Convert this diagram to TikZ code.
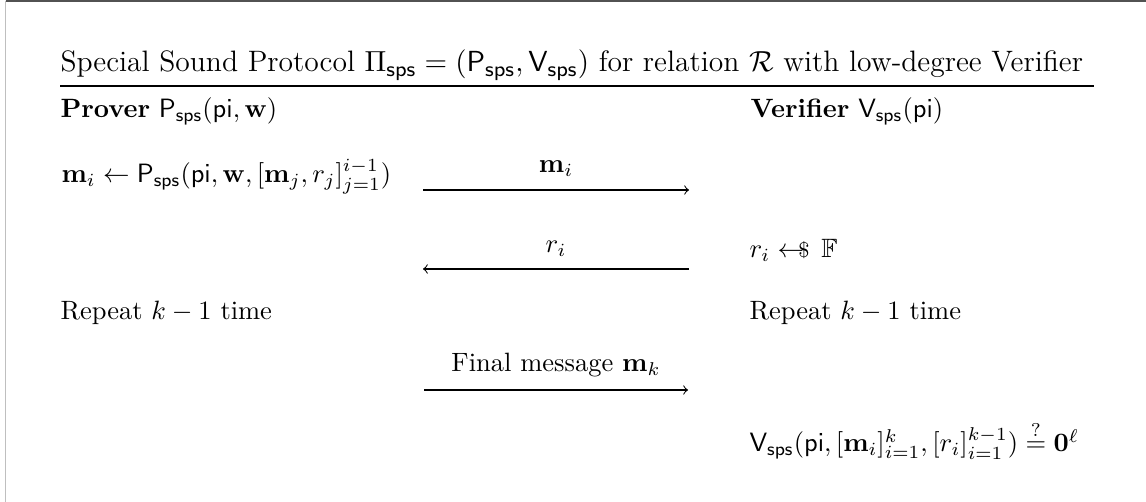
\documentclass[tikz,border=0pt]{standalone}
\usepackage{amsmath,amssymb}
\usetikzlibrary{arrows}
\begin{document}
\begin{tikzpicture}[x=0.3774pt,y=-0.3774pt,
  txt/.style={anchor=base west,inner sep=0pt,font=\fontsize{10}{12}\selectfont},
  lbl/.style={anchor=base,inner sep=0pt,font=\fontsize{10}{12}\selectfont},
  msg/.style={line width=0.4pt,->},
  frametop/.style={draw=black!68,line width=0.6pt},
  frameleft/.style={draw=black!25,line width=0.5pt}]
\useasboundingbox (0,0) rectangle (1146,502);
% frame edges
\coordinate (ftl) at (5.5,0.8);
\coordinate (ftr) at (1146,0.8);
\coordinate (fbl) at (5.5,502);
\draw[frametop] (ftl) -- (ftr);
\draw[frameleft] (ftl) -- (fbl);
% title
\node[txt,font=\fontsize{11.15}{13}\selectfont] (title) at (60,72)
  {Special Sound Protocol $\Pi_{\mathsf{sps}}=(\mathsf{P}_{\mathsf{sps}},\mathsf{V}_{\mathsf{sps}})$ for relation $\mathcal{R}$ with low-degree Verifier};
\coordinate (rl) at (60,86);
\coordinate (rr) at (1094,86);
\draw[line width=0.4pt] (rl) -- (rr);
% headers
\node[txt] (prover) at (60,118) {\textbf{Prover} $\mathsf{P}_{\mathsf{sps}}(\mathsf{pi},\mathbf{w})$};
\node[txt] (verifier) at (750,118) {\textbf{Verifier} $\mathsf{V}_{\mathsf{sps}}(\mathsf{pi})$};
% round i
\node[txt] (pmsg) at (61,183) {$\mathbf{m}_i\leftarrow\mathsf{P}_{\mathsf{sps}}(\mathsf{pi},\mathbf{w},[\mathbf{m}_j,r_j]_{j=1}^{i-1})$};
\coordinate (a1s) at (423,190);
\coordinate (a1e) at (689,190);
\draw[msg] (a1s) -- (a1e);
\node[lbl] (l1) at (556,173) {$\mathbf{m}_i$};
\coordinate (a2s) at (689,269);
\coordinate (a2e) at (423,269);
\draw[msg] (a2s) -- (a2e);
\node[lbl] (l2) at (556,253) {$r_i$};
\node[txt] (samp) at (749,258) {$r_i \mathrel{\leftarrow\!\!\!\mbox{\footnotesize\$}}\,\mathbb{F}$};
% repeat
\node[txt] (repL) at (60,320) {Repeat $k-1$ time};
\node[txt] (repR) at (749,320) {Repeat $k-1$ time};
% final
\coordinate (a3s) at (424,390);
\coordinate (a3e) at (688,390);
\draw[msg] (a3s) -- (a3e);
\node[lbl] (l3) at (556,372) {Final message $\mathbf{m}_k$};
\node[txt] (check) at (749,452) {$\mathsf{V}_{\mathsf{sps}}(\mathsf{pi},[\mathbf{m}_i]_{i=1}^{k},[r_i]_{i=1}^{k-1})\overset{?}{=}\mathbf{0}^{\ell}$};
\end{tikzpicture}
\end{document}
